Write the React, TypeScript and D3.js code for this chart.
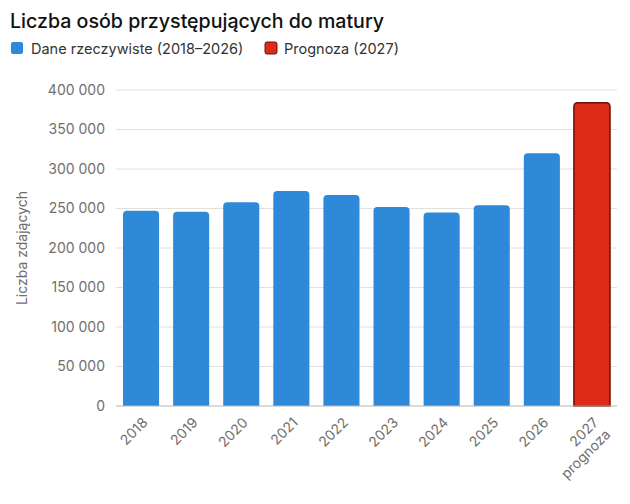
import * as d3 from 'd3';

const years = ['2018', '2019', '2020', '2021', '2022', '2023', '2024', '2025', '2026', '2027'];
const counts = [247000, 246000, 258000, 272000, 267000, 252000, 245000, 254000, 320000, 384000];
const forecastYears = ['2027'];
const yTicks = [0, 50000, 100000, 150000, 200000, 250000, 300000, 350000, 400000];

const WIDTH = 630;
const HEIGHT = 504;
const MARGIN = { top: 90, right: 13, bottom: 98, left: 116 };
const FONT = 'Inter, "Noto Sans", sans-serif';
const BLUE = '#2e89d9';
const RED = '#dc2b16';
const RED_STROKE = '#6e0d0a';

const fmt = d3.formatLocale({ decimal: ',', thousands: ' ', grouping: [3], currency: ['', ' zł'] }).format(',');

// bar with rounded top corners only
const topRounded = (x: number, y: number, w: number, h: number, r: number) =>
  `M${x},${y + h}V${y + r}Q${x},${y} ${x + r},${y}H${x + w - r}Q${x + w},${y} ${x + w},${y + r}V${y + h}Z`;

export default function App() {
  const x = d3
    .scaleBand<string>()
    .domain(years)
    .range([MARGIN.left, WIDTH - MARGIN.right])
    .paddingInner(0.28)
    .paddingOuter(0.14);
  const y = d3
    .scaleLinear()
    .domain([0, 400000])
    .range([HEIGHT - MARGIN.bottom, MARGIN.top]);

  const bottom = y(0);

  return (
    <svg width={WIDTH} height={HEIGHT} style={{ position: 'absolute', left: 0, top: 0, background: '#fff' }} fontFamily={FONT}>
      <text x={10} y={28} fontSize={19.6} fontWeight={500} fill="#111">
        Liczba osób przystępujących do matury
      </text>

      {/* legend */}
      <rect x={11} y={42} width={12} height={12} rx={2} fill={BLUE} />
      <text x={31} y={54} fontSize={14.5} fill="#333">
        Dane rzeczywiste (2018–2026)
      </text>
      <rect x={265} y={42} width={12} height={12} rx={2} fill={RED} stroke={RED_STROKE} strokeWidth={1} />
      <text x={284} y={54} fontSize={14.5} fill="#333">
        Prognoza (2027)
      </text>

      {/* grid + y ticks */}
      {yTicks.map((t) => (
        <g key={t}>
          {t > 0 && (
            <line x1={MARGIN.left} x2={WIDTH - MARGIN.right} y1={y(t)} y2={y(t)} stroke="#e2e0da" strokeWidth={1} />
          )}
          <text x={105} y={y(t)} dy="0.35em" textAnchor="end" fontSize={14} fill="#6f6f6f">
            {fmt(t)}
          </text>
        </g>
      ))}

      <text
        transform={`translate(27, ${(MARGIN.top + bottom) / 2}) rotate(-90)`}
        textAnchor="middle"
        fontSize={14}
        fill="#6f6f6f"
      >
        Liczba zdających
      </text>

      {/* bars */}
      {years.map((yr, i) => {
        const isForecast = forecastYears.includes(yr);
        const bx = x(yr) ?? 0;
        const by = y(counts[i]);
        return (
          <path
            key={yr}
            d={topRounded(bx, by, x.bandwidth(), bottom - by, 4)}
            fill={isForecast ? RED : BLUE}
            stroke={isForecast ? RED_STROKE : 'none'}
            strokeWidth={isForecast ? 1.5 : 0}
          />
        );
      })}

      <line x1={MARGIN.left} x2={WIDTH - MARGIN.right} y1={bottom} y2={bottom} stroke="#b5b5b5" strokeWidth={1} />

      {/* x labels */}
      {years.map((yr) => {
        const cx = (x(yr) ?? 0) + x.bandwidth() / 2;
        const isForecast = forecastYears.includes(yr);
        return (
          <text
            key={yr}
            transform={`translate(${cx + 4}, ${bottom + 14}) rotate(-45)`}
            textAnchor="end"
            fontSize={14}
            fill="#6f6f6f"
          >
            <tspan x={0} dy="0.35em">{yr}</tspan>
            {isForecast && (
              <tspan x={0} dy="1.2em">
                prognoza
              </tspan>
            )}
          </text>
        );
      })}
    </svg>
  );
}
